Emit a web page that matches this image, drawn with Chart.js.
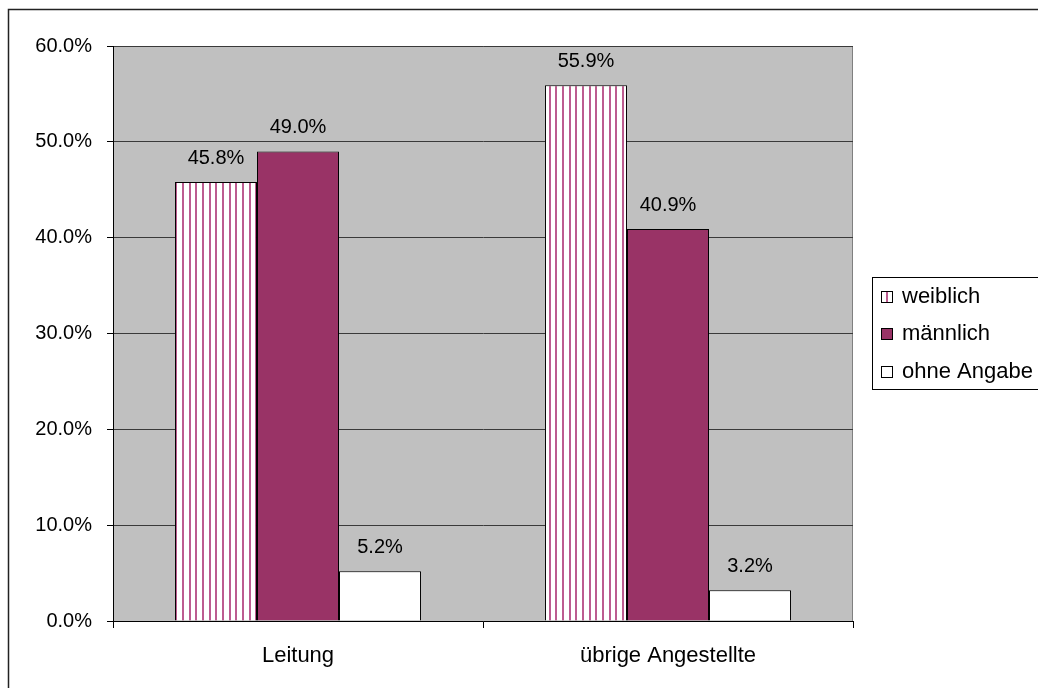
<!DOCTYPE html>
<html>
<head>
<meta charset="utf-8">
<script src="https://cdn.jsdelivr.net/npm/chart.js@4/dist/chart.umd.min.js"></script>
<style>
  html, body { margin: 0; padding: 0; background: #fff; }
  #wrap { width: 1038px; height: 688px; position: relative; }
</style>
</head>
<body>
<div id="wrap"><canvas id="c" width="1038" height="688"></canvas></div>
<script>
const categories = ['Leitung', 'übrige Angestellte'];
const seriesNames = ['weiblich', 'männlich', 'ohne Angabe'];
const weiblich = [45.8, 55.9];
const maennlich = [49.0, 40.9];
const ohneAngabe = [5.2, 3.2];
const yMin = 0, yMax = 60, yStep = 10;

const FONT = '"Liberation Sans", Arial, sans-serif';

function makeStripes() {
  const p = document.createElement('canvas');
  p.width = 20; p.height = 10;
  const g = p.getContext('2d');
  g.fillStyle = '#ffffff';
  g.fillRect(0, 0, 20, 10);
  g.fillStyle = '#bd5b90';
  [2, 9, 15].forEach(x => g.fillRect(x, 0, 2, 10));
  const ctx = document.getElementById('c').getContext('2d');
  return ctx.createPattern(p, 'repeat');
}
const stripes = makeStripes();

const bgPlugin = {
  id: 'bg',
  beforeDraw(chart) {
    const { ctx, chartArea: a } = chart;
    ctx.save();
    ctx.fillStyle = '#ffffff';
    ctx.fillRect(0, 0, chart.width, chart.height);
    // outer border
    ctx.strokeStyle = '#222';
    ctx.lineWidth = 1.5;
    ctx.strokeRect(8.5, 9.5, chart.width + 20, chart.height + 20);
    // plot area
    ctx.fillStyle = '#c0c0c0';
    ctx.fillRect(a.left, a.top, a.right - a.left, a.bottom - a.top);
    ctx.strokeStyle = '#808080';
    ctx.lineWidth = 1;
    ctx.beginPath();
    ctx.moveTo(a.left, a.top + 0.5);
    ctx.lineTo(a.right - 0.5, a.top + 0.5);
    ctx.lineTo(a.right - 0.5, a.bottom);
    ctx.stroke();
    ctx.restore();
  }
};

const labelPlugin = {
  id: 'vlabels',
  afterDatasetsDraw(chart) {
    const { ctx } = chart;
    ctx.save();
    ctx.font = '20px ' + FONT;
    ctx.fillStyle = '#000';
    ctx.textAlign = 'center';
    ctx.textBaseline = 'alphabetic';
    chart.data.datasets.forEach((ds, di) => {
      chart.getDatasetMeta(di).data.forEach((bar, i) => {
        ctx.fillText(ds.data[i].toFixed(1) + '%', bar.x, bar.y - 18);
      });
    });
    ctx.restore();
  }
};

const legendPlugin = {
  id: 'boxlegend',
  afterDraw(chart) {
    const { ctx } = chart;
    ctx.save();
    const left = 872.5, top = 277.5, bottom = 389.5;
    ctx.strokeStyle = '#000';
    ctx.lineWidth = 1;
    ctx.strokeRect(left, top, 200, bottom - top);
    const baselines = [303, 340, 378];
    ctx.font = '22px ' + FONT;
    ctx.textAlign = 'left';
    ctx.textBaseline = 'alphabetic';
    chart.data.datasets.forEach((ds, i) => {
      const by = baselines[i];
      const sx = 881, sy = by - 12;
      if (i === 0) {
        ctx.fillStyle = '#fff';
        ctx.fillRect(sx, sy, 11, 11);
        ctx.fillStyle = '#bd5b90';
        ctx.fillRect(sx + 5, sy, 2, 11);
      } else {
        ctx.fillStyle = ds.backgroundColor;
        ctx.fillRect(sx, sy, 11, 11);
      }
      ctx.strokeStyle = '#000';
      ctx.strokeRect(sx + 0.5, sy + 0.5, 11, 11);
      ctx.fillStyle = '#000';
      ctx.fillText(ds.label, 902, by);
    });
    ctx.restore();
  }
};

new Chart(document.getElementById('c'), {
  type: 'bar',
  data: {
    labels: categories,
    datasets: [
      { label: seriesNames[0], data: weiblich, backgroundColor: stripes, borderColor: '#000', borderWidth: 1 },
      { label: seriesNames[1], data: maennlich, backgroundColor: '#993366', borderColor: '#000', borderWidth: 1 },
      { label: seriesNames[2], data: ohneAngabe, backgroundColor: '#ffffff', borderColor: '#000', borderWidth: 1 }
    ]
  },
  options: {
    responsive: false,
    animation: false,
    devicePixelRatio: 1,
    layout: { padding: { left: 0, top: 46, right: 185, bottom: 0 } },
    datasets: { bar: { categoryPercentage: 0.665, barPercentage: 1.0 } },
    plugins: { legend: { display: false }, tooltip: { enabled: false }, title: { display: false } },
    scales: {
      x: {
        offset: true,
        grid: { offset: true, drawOnChartArea: false, drawTicks: true, tickLength: 7, color: '#000', tickColor: '#000' },
        border: { display: true, color: '#000', width: 1 },
        ticks: { color: '#000', font: { family: FONT, size: 22 }, padding: 15, maxRotation: 0 },
        afterFit(scale) { scale.height = 67; }
      },
      y: {
        min: yMin, max: yMax,
        grid: { color: '#3a3a3a', tickColor: '#000', tickLength: 6, drawTicks: true },
        border: { display: true, color: '#000', width: 1 },
        ticks: {
          stepSize: yStep, color: '#000', padding: 15,
          font: { family: FONT, size: 20 },
          callback: v => v.toFixed(1) + '%'
        },
        afterFit(scale) { scale.width = 113; }
      }
    }
  },
  plugins: [bgPlugin, labelPlugin, legendPlugin]
});
</script>
</body>
</html>
